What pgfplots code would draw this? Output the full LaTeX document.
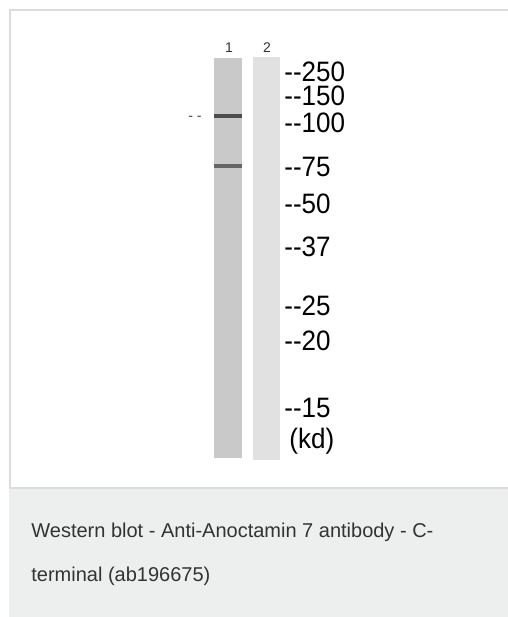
\documentclass[border=0pt]{standalone}
\usepackage{fontspec}
\setmainfont{Liberation Sans}
\usepackage{pgfplots}
\pgfplotsset{compat=1.18}
\definecolor{frame}{HTML}{DCDCDC}
\definecolor{capbg}{HTML}{EDEEEE}
\definecolor{captxt}{HTML}{333333}
\definecolor{laneA}{HTML}{C9C9C9}
\definecolor{laneB}{HTML}{E1E1E1}
\definecolor{band}{HTML}{4C4C4C}
\newcommand{\mk}[1]{\mbox{-}\mbox{-}#1}
\begin{document}
\begin{tikzpicture}
\useasboundingbox (0,0) rectangle (254pt,308.5pt);
\begin{axis}[
    scale only axis,
    width=254pt, height=308.5pt,
    xmin=0, xmax=508, ymin=0, ymax=617,
    y dir=reverse,
    hide axis,
    clip=false,
]
% page frame and caption box
\fill[white] (axis cs:0,0) rectangle (axis cs:508,617);
\fill[frame] (axis cs:9,9) rectangle (axis cs:508,11);
\fill[frame] (axis cs:9,9) rectangle (axis cs:11,489);
\fill[capbg] (axis cs:9,487) rectangle (axis cs:508,617);
\fill[frame] (axis cs:9,487) rectangle (axis cs:508,489);

% lanes
\addplot[fill=laneA, draw=none] coordinates {(214,58) (242,58) (242,458) (214,458)} -- cycle;
\addplot[fill=laneB, draw=none] coordinates {(253,57) (280,57) (280,460) (253,460)} -- cycle;

% bands in lane 1
\addplot[band, line width=2pt] coordinates {(214,116) (242,116)};
\addplot[band!80!laneA, line width=1.8pt] coordinates {(214,166) (242,166)};

% lane numbers
\node[font=\fontsize{7pt}{8pt}\selectfont, text=black!80, anchor=base] at (axis cs:229,52) {1};
\node[font=\fontsize{7pt}{8pt}\selectfont, text=black!80, anchor=base] at (axis cs:267,52) {2};
\node[font=\fontsize{7pt}{8pt}\selectfont, text=black!75, anchor=base] at (axis cs:195,120) {- -};

% marker sizes
\begin{scope}[every node/.style={font=\fontsize{13pt}{14pt}\selectfont, anchor=base west, inner sep=0pt, yscale=1.08, text height=0.72em, text depth=0pt}]
\node at (axis cs:284,81) {\mk{250}};
\node at (axis cs:284,105) {\mk{150}};
\node at (axis cs:284,132) {\mk{100}};
\node at (axis cs:284,176) {\mk{75}};
\node at (axis cs:284,213) {\mk{50}};
\node at (axis cs:284,256) {\mk{37}};
\node at (axis cs:284,315) {\mk{25}};
\node at (axis cs:284,350) {\mk{20}};
\node at (axis cs:284,417) {\mk{15}};
\node at (axis cs:289,448) {(kd)};
\end{scope}

% caption
\begin{scope}[every node/.style={font=\fontsize{10pt}{11pt}\selectfont, text=captxt, anchor=base west, inner sep=0pt}]
\node at (axis cs:31,537) {Western blot - Anti-Anoctamin 7 antibody - C-};
\node at (axis cs:31,581) {terminal (ab196675)};
\end{scope}
\end{axis}
\end{tikzpicture}
\end{document}
